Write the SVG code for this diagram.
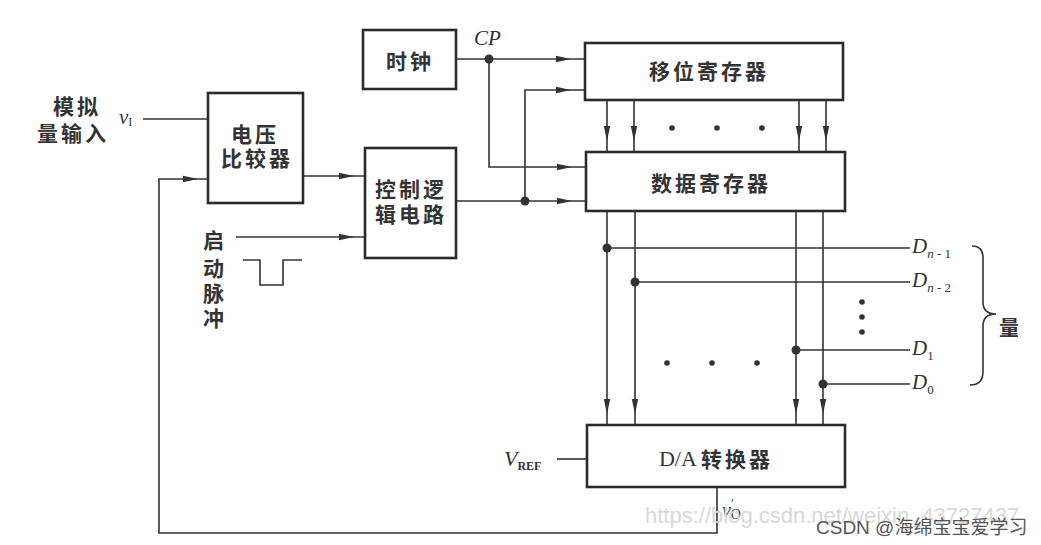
<svg xmlns="http://www.w3.org/2000/svg" xmlns:xlink="http://www.w3.org/1999/xlink" width="1041" height="545" viewBox="0 0 1041 545">
<defs>
<style>
.box{fill:#fff;stroke:#2b2b2b;stroke-width:2.6}
.ln{fill:none;stroke:#333;stroke-width:1.6}
.cn{font-family:"Noto Sans CJK SC","Noto Sans CJK TC",sans-serif;font-weight:bold;font-size:21px;letter-spacing:3px;fill:#333;text-anchor:middle;dominant-baseline:central}
.it{font-family:"Liberation Serif",serif;font-style:italic;fill:#333}
.sub{font-family:"Liberation Serif",serif;fill:#333}
.dot{fill:#333}
</style>
<path id="ah" d="M0,0 L-15,-3.2 L-15,3.2 Z" fill="#333"/>
<clipPath id="cl"><rect x="995" y="280" width="23" height="70"/></clipPath>
</defs>
<rect width="1041" height="545" fill="#fff"/>

<g id="connectors">
<path class="ln" d="M143,119 H208"/>
<path class="ln" d="M456,59 H585"/>
<use xlink:href="#ah" transform="translate(571,59)"/>
<path class="ln" d="M489,59 V167 H586"/>
<use xlink:href="#ah" transform="translate(572,167)"/>
<circle class="dot" cx="489" cy="59" r="4.5"/>
<path class="ln" d="M303,176 H365"/>
<use xlink:href="#ah" transform="translate(354,176)"/>
<path class="ln" d="M236,237 H365"/>
<use xlink:href="#ah" transform="translate(354,237)"/>
<path class="ln" d="M243,260 H260 V285 H283 V260 H302" stroke-width="2.4"/>
<path class="ln" d="M456,201 H586"/>
<use xlink:href="#ah" transform="translate(572,201)"/>
<path class="ln" d="M525,201 V90 H585"/>
<use xlink:href="#ah" transform="translate(571,90)"/>
<circle class="dot" cx="525" cy="201" r="4.5"/>
<path class="ln" d="M607,100 V152 M634,100 V152 M799,100 V152 M826,100 V152"/>
<use xlink:href="#ah" transform="translate(607,141) rotate(90)"/>
<use xlink:href="#ah" transform="translate(634,141) rotate(90)"/>
<use xlink:href="#ah" transform="translate(799,141) rotate(90)"/>
<use xlink:href="#ah" transform="translate(826,141) rotate(90)"/>
<circle class="dot" cx="672" cy="128" r="2.8"/>
<circle class="dot" cx="717" cy="128" r="2.8"/>
<circle class="dot" cx="762" cy="128" r="2.8"/>
<path class="ln" d="M607,211 V425 M635,211 V425 M796,211 V425 M823,211 V425"/>
<use xlink:href="#ah" transform="translate(607,414) rotate(90)"/>
<use xlink:href="#ah" transform="translate(635,414) rotate(90)"/>
<use xlink:href="#ah" transform="translate(796,414) rotate(90)"/>
<use xlink:href="#ah" transform="translate(823,414) rotate(90)"/>
<path class="ln" d="M607,248 H910 M635,282 H910 M796,350 H910 M823,384 H910"/>
<circle class="dot" cx="607" cy="248" r="4.5"/>
<circle class="dot" cx="635" cy="282" r="4.5"/>
<circle class="dot" cx="796" cy="350" r="4.5"/>
<circle class="dot" cx="823" cy="384" r="4.5"/>
<circle class="dot" cx="667" cy="363" r="2.8"/>
<circle class="dot" cx="712" cy="363" r="2.8"/>
<circle class="dot" cx="757" cy="363" r="2.8"/>
<circle class="dot" cx="862" cy="302" r="2.8"/>
<circle class="dot" cx="862" cy="317" r="2.8"/>
<circle class="dot" cx="862" cy="332" r="2.8"/>
<path class="ln" d="M557,459 H587"/>
<path class="ln" d="M717,487 V533 H159 V179 H208"/>
<use xlink:href="#ah" transform="translate(198,179)"/>
<path class="ln" d="M972,246 Q983,246 983,258 V302 Q983,314 996,314 Q983,314 983,326 V372 Q983,385 970,385" stroke-width="1.8"/>
</g>

<g id="clock"><rect class="box" x="363" y="30" width="93" height="59"/><text class="cn" x="410" y="60">时钟</text></g>
<g id="comparator"><rect class="box" x="208" y="93" width="95" height="110"/><text class="cn" x="255" y="133">电压</text><text class="cn" x="257" y="157">比较器</text></g>
<g id="control"><rect class="box" x="365" y="148" width="91" height="110"/><text class="cn" x="411" y="188">控制逻</text><text class="cn" x="411" y="213">辑电路</text></g>
<g id="shiftreg"><rect class="box" x="585" y="43" width="258" height="57"/><text class="cn" x="709" y="70">移位寄存器</text></g>
<g id="datareg"><rect class="box" x="586" y="152" width="259" height="59"/><text class="cn" x="711" y="182">数据寄存器</text></g>
<g id="dac"><rect class="box" x="587" y="425" width="258" height="62"/><text class="cn" x="716" y="458"><tspan font-family="Liberation Serif,serif" font-weight="normal" font-size="22" letter-spacing="0">D/A </tspan>转换器</text></g>

<g id="labels">
<text class="cn" x="77" y="105">模拟</text>
<text class="cn" x="73" y="132">量输入</text>
<text class="it" x="119" y="124" font-size="21">v<tspan class="sub" font-style="normal" font-size="12" dy="2">I</tspan></text>
<text class="it" x="474" y="45" font-size="21">CP</text>
<text class="cn" x="215" y="239" letter-spacing="0">启</text>
<text class="cn" x="215" y="267" letter-spacing="0">动</text>
<text class="cn" x="215" y="292" letter-spacing="0">脉</text>
<text class="cn" x="215" y="317" letter-spacing="0">冲</text>
<text class="it" x="912" y="253" font-size="21">D<tspan font-size="13" dy="5">n</tspan><tspan class="sub" font-style="normal" font-size="13"> - 1</tspan></text>
<text class="it" x="912" y="287" font-size="21">D<tspan font-size="13" dy="5">n</tspan><tspan class="sub" font-style="normal" font-size="13"> - 2</tspan></text>
<text class="it" x="912" y="355" font-size="21">D<tspan class="sub" font-style="normal" font-size="13" dy="5">1</tspan></text>
<text class="it" x="912" y="389" font-size="21">D<tspan class="sub" font-style="normal" font-size="13" dy="5">0</tspan></text>
<text class="cn" x="1011" y="326" font-size="18" letter-spacing="0" clip-path="url(#cl)">量</text>
<text class="it" x="504" y="466" font-size="22">V<tspan class="sub" font-style="normal" font-size="12" font-weight="bold" dy="4">REF</tspan></text>
<text class="it" x="722" y="517" font-size="20">v<tspan class="sub" font-style="normal" font-size="13" dy="-10">′</tspan><tspan class="sub" font-style="normal" font-size="14" dx="-3" dy="12">O</tspan></text>
</g>

<g id="watermark">
<text x="645" y="523" font-family="Liberation Sans,Arial,sans-serif" font-size="22" fill="#d8d8d8">https://blog.csdn.net/weixin_43727437</text>
<text x="816" y="534" font-family="Liberation Sans,'Noto Sans CJK SC',sans-serif" font-size="19" fill="#555">CSDN @海绵宝宝爱学习</text>
</g>
</svg>
